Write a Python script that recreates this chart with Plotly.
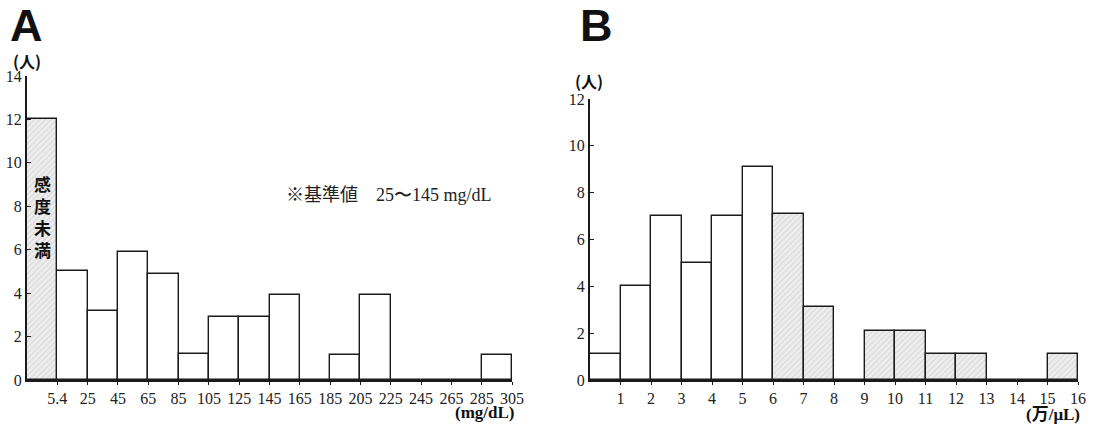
import plotly.graph_objects as go

W, H = 1093, 427

# ---- Panel A data (mg/dL bins) ----
a_edge_labels = ["5.4", "25", "45", "65", "85", "105", "125", "145", "165",
                 "185", "205", "225", "245", "265", "285", "305"]
a_counts = [12, 5, 3.2, 5.9, 4.9, 1.2, 2.9, 2.9, 3.9, 0, 1.15, 3.9, 0, 0, 0, 1.15]
a_shaded = [1, 0, 0, 0, 0, 0, 0, 0, 0, 0, 0, 0, 0, 0, 0, 0]

# ---- Panel B data (万/μL bins) ----
b_edge_labels = [str(i) for i in range(1, 17)]
b_counts = [1.1, 4, 7, 5, 7, 9.1, 7.1, 3.1, 0, 2.1, 2.1, 1.1, 1.1, 0, 0, 1.1]
b_shaded = [0, 0, 0, 0, 0, 0, 1, 1, 0, 1, 1, 1, 1, 0, 0, 1]


def px(x):
    return x / W


def py(y):
    return 1 - y / H


fig = go.Figure()

LINE = dict(color="#1a1a1a", width=1.4)
SHADE = dict(shape="/", fgcolor="#d9d9d9", bgcolor="#eeeeee", size=4, solidity=0.3)


def add_bars(counts, shaded, xa, ya):
    for flag in (0, 1):
        xs = [i + 0.5 for i, s in enumerate(shaded) if s == flag]
        ys = [c for c, s in zip(counts, shaded) if s == flag]
        marker = dict(color="#eeeeee" if flag else "white", line=LINE)
        if flag:
            marker["pattern"] = SHADE
        fig.add_trace(go.Bar(x=xs, y=ys, width=1, marker=marker,
                             xaxis=xa, yaxis=ya, showlegend=False,
                             hoverinfo="skip"))


add_bars(a_counts, a_shaded, "x", "y")
add_bars(b_counts, b_shaded, "x2", "y2")

tickfont = dict(family="Liberation Serif", size=16, color="#222")
common_x = dict(showgrid=False, zeroline=False, showline=True, linecolor="#1a1a1a",
                linewidth=2, ticks="outside", ticklen=3, tickwidth=1, tickcolor="#1a1a1a",
                tickfont=tickfont, range=[0, 16], tickmode="array", automargin=False,
                tickvals=list(range(1, 17)))
common_y = dict(showgrid=False, zeroline=False, showline=True, linecolor="#1a1a1a",
                linewidth=2, ticks="inside", ticklen=4, tickwidth=1, tickcolor="#1a1a1a",
                tickfont=tickfont, dtick=2, automargin=False)

fig.update_layout(
    template="none",
    width=W, height=H, margin=dict(l=0, r=0, t=0, b=0, pad=0, autoexpand=False),
    paper_bgcolor="white", plot_bgcolor="white", bargap=0,
    xaxis=dict(common_x, domain=[px(27), px(512)], ticktext=a_edge_labels, anchor="y"),
    yaxis=dict(common_y, domain=[py(380), py(76)], range=[0, 14], anchor="x"),
    xaxis2=dict(common_x, domain=[px(590), px(1078)], ticktext=b_edge_labels, anchor="y2"),
    yaxis2=dict(common_y, domain=[py(380), py(99)], range=[0, 12], anchor="x2"),
)

sans_bold = "Liberation Sans"
cjk = "Noto Sans CJK JP"

ann = []
ann.append(dict(text="<b>A</b>", x=px(8), y=py(26), xanchor="left", yanchor="middle",
                font=dict(family=sans_bold, size=45, color="#111")))
ann.append(dict(text="<b>B</b>", x=px(578), y=py(26), xanchor="left", yanchor="middle",
                font=dict(family=sans_bold, size=45, color="#111")))
ann.append(dict(text="<b>(人)</b>", x=px(27), y=py(61), xanchor="center", yanchor="middle",
                font=dict(family=cjk, size=16, color="#111")))
ann.append(dict(text="<b>(人)</b>", x=px(589), y=py(81), xanchor="center", yanchor="middle",
                font=dict(family=cjk, size=16, color="#111")))
ann.append(dict(text="<b>感<br>度<br>未<br>満</b>", x=0.5, y=7.55, xref="x", yref="y",
                xanchor="center", yanchor="middle", showarrow=False,
                font=dict(family=cjk, size=17, color="#111")))
ann.append(dict(text="※基準値　<span style='font-family:Liberation Serif'>25〜145 mg/dL</span>",
                x=px(284), y=py(193), xanchor="left", yanchor="middle",
                font=dict(family=cjk, size=18, color="#222")))
ann.append(dict(text="<b>(mg/dL)</b>", x=px(517), y=py(412), xanchor="right", yanchor="middle",
                font=dict(family="Liberation Serif", size=17, color="#111")))
ann.append(dict(text="<b>(<span style='font-family:Noto Sans CJK JP'>万</span>/μL)</b>",
                x=px(1082), y=py(412), xanchor="right", yanchor="middle",
                font=dict(family="Liberation Serif", size=17, color="#111")))

for a in ann:
    a.setdefault("xref", "paper")
    a.setdefault("yref", "paper")
    a["showarrow"] = False
    fig.add_annotation(**a)

post = (
    "document.documentElement.style.overflow='hidden';"
    "document.body.style.margin='0';"
)

fig.write_html("out.html", config={"displayModeBar": False}, post_script=post)
